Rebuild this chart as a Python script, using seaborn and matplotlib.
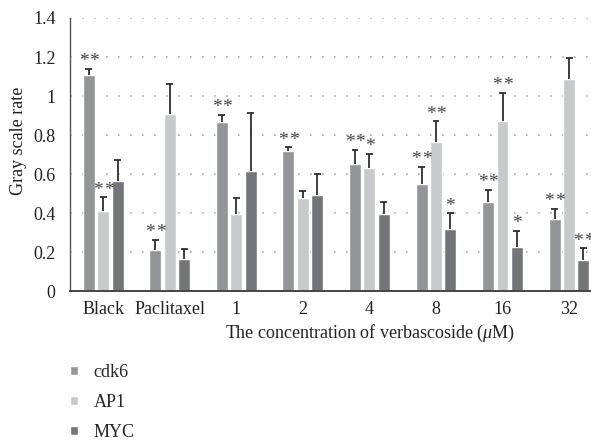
import numpy as np
import pandas as pd
import matplotlib
matplotlib.use("Agg")
import matplotlib.pyplot as plt
import seaborn as sns

categories = ["Black", "Paclitaxel", "1", "2", "4", "8", "16", "32"]
genes = ["cdk6", "AP1", "MYC"]
cdk6_mean = [1.108, 0.209, 0.867, 0.718, 0.651, 0.548, 0.456, 0.368]
cdk6_err = [0.030, 0.055, 0.036, 0.019, 0.074, 0.089, 0.063, 0.053]
ap1_mean = [0.410, 0.908, 0.394, 0.476, 0.631, 0.764, 0.872, 1.088]
ap1_err = [0.070, 0.151, 0.084, 0.038, 0.073, 0.106, 0.144, 0.109]
myc_mean = [0.564, 0.163, 0.615, 0.492, 0.394, 0.317, 0.225, 0.158]
myc_err = [0.108, 0.050, 0.298, 0.109, 0.063, 0.081, 0.083, 0.060]
cdk6_sig = [2, 2, 2, 2, 2, 2, 2, 2]
ap1_sig = [2, 0, 0, 0, 1, 2, 2, 0]
myc_sig = [0, 0, 0, 0, 0, 1, 1, 2]
colors = ["#949598", "#c8c9cb", "#747579"]
y_label = "Gray scale rate"
x_label = "The concentration of verbascoside ($\\mu$M)"

means = [cdk6_mean, ap1_mean, myc_mean]
errs = [cdk6_err, ap1_err, myc_err]
sigs = [cdk6_sig, ap1_sig, myc_sig]

rows = []
for g, m in zip(genes, means):
    for c, v in zip(categories, m):
        rows.append({"cat": c, "gene": g, "value": v})
df = pd.DataFrame(rows)

sns.set_style("white")
plt.rcParams["font.family"] = ["Liberation Serif", "DejaVu Serif"]
plt.rcParams["mathtext.fontset"] = "custom"
plt.rcParams["mathtext.it"] = "Liberation Serif:italic"
plt.rcParams["mathtext.rm"] = "Liberation Serif"

FS = 13
W, H = 591, 440
fig = plt.figure(figsize=(W / 100, H / 100), dpi=100)
ax = fig.add_axes([70 / W, (H - 291) / H, (W - 70) / W, (291 - 18) / H])

sns.barplot(data=df, x="cat", y="value", hue="gene", palette=colors,
            order=categories, hue_order=genes, width=0.65, gap=0.17,
            errorbar=None, saturation=1, ax=ax, zorder=3)

ax.set_xlim(-0.5, 7.33)
ax.set_ylim(0, 1.4)
ax.set_yticks(np.arange(0, 1.41, 0.2))
ax.yaxis.set_major_formatter(matplotlib.ticker.FuncFormatter(lambda v, p: f"{v:g}"))

# error bars (upper only) and significance marks
for cont, m, e, s in zip(ax.containers, means, errs, sigs):
    for bar, mv, ev, nstar in zip(cont, m, e, s):
        xc = bar.get_x() + bar.get_width() / 2
        top = mv + ev
        ax.vlines(xc, mv, top, color="#2e2e2e", lw=1.3, zorder=4)
        ax.hlines(top, xc - 0.052, xc + 0.052, color="#2e2e2e", lw=1.3, zorder=4)
        offs = [0.0] if nstar == 1 else ([-3.8, 3.8] if nstar == 2 else [])
        for dx in offs:
            ax.annotate("*", (xc, top), xytext=(dx, 2.0), textcoords="offset points",
                        ha="center", va="baseline", fontsize=14, color="#444444",
                        annotation_clip=False, zorder=5)

ax.grid(False)
for yv in np.arange(0.2, 1.41, 0.2):
    ax.axhline(yv, color="#ababab", lw=1.2, linestyle=(0, (1, 6.2)), zorder=1)

for sp in ["top", "right"]:
    ax.spines[sp].set_visible(False)
ax.spines["left"].set_color("#555555")
ax.spines["left"].set_linewidth(1.0)
ax.spines["bottom"].set_color("#444444")
ax.spines["bottom"].set_linewidth(1.4)
ax.spines["bottom"].set_zorder(6)

ax.tick_params(axis="both", length=0, labelsize=FS, colors="#222222")
ax.tick_params(axis="y", pad=10.5)
ax.tick_params(axis="x", pad=7)

ax.set_xlabel(x_label, fontsize=FS, color="#222222")
ax.xaxis.set_label_coords(0.576, -0.154)
ax.xaxis.label.set_va("center")
ax.set_ylabel(y_label, fontsize=FS, color="#222222")
ax.yaxis.set_label_coords(-0.098, 0.549)
ax.yaxis.label.set_va("center")

sns.move_legend(ax, loc="upper left", bbox_to_anchor=(70 / W, (H - 364) / H),
                bbox_transform=fig.transFigure, frameon=False, title=None,
                fontsize=FS, handlelength=0.45, handleheight=0.45,
                handletextpad=0.85, labelspacing=0.72, borderpad=0, borderaxespad=0)

fig.savefig("out.png", dpi=100)
